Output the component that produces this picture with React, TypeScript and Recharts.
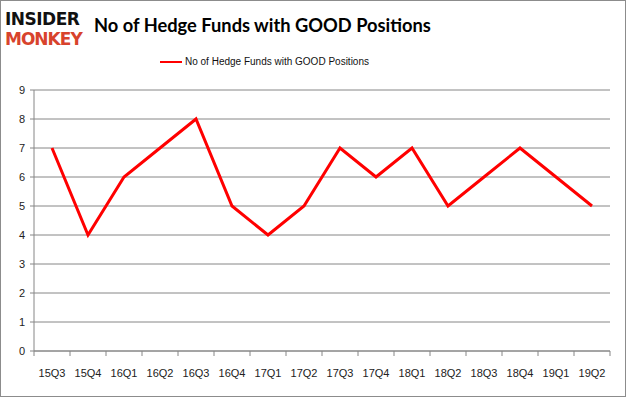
import React from 'react';
import { LineChart, Line, XAxis, YAxis, CartesianGrid } from 'recharts';

const quarters = ['15Q3', '15Q4', '16Q1', '16Q2', '16Q3', '16Q4', '17Q1', '17Q2', '17Q3', '17Q4', '18Q1', '18Q2', '18Q3', '18Q4', '19Q1', '19Q2'];
const funds = [7, 4, 6, 7, 8, 5, 4, 5, 7, 6, 7, 5, 6, 7, 6, 5];
const yTicks = [0, 1, 2, 3, 4, 5, 6, 7, 8, 9];
const seriesName = 'No of Hedge Funds with GOOD Positions';

const data = quarters.map((q, i) => ({ q, value: funds[i] }));

const font = '"Liberation Sans", Arial, sans-serif';

// Excel-style tick: label centred in band, tick mark on band boundary
const QuarterTick = (props: any) => {
    const { x, y, payload } = props;
    const off = payload.offset || 0;
    const last = payload.index === quarters.length - 1;
    return (
        <g>
            <line x1={x - off} x2={x - off} y1={y} y2={y + 5} stroke="#868686" />
            {last && <line x1={x + off} x2={x + off} y1={y} y2={y + 5} stroke="#868686" />}
            <text x={x} y={y + 26} textAnchor="middle" fontSize={11} fill="#222" fontFamily={font}>
                {payload.value}
            </text>
        </g>
    );
};

export default function App() {
    return (
        <div style={{ position: 'absolute', left: 0, top: 0, width: 626, height: 397, background: '#fff', boxSizing: 'border-box', border: '1px solid #8c8c8c' }}>
            <div style={{ position: 'absolute', left: 4, top: 8, fontFamily: '"DejaVu Sans", sans-serif', fontWeight: 900, lineHeight: '20px' }}>
                <div style={{ fontSize: 17, color: '#111', letterSpacing: -0.5 }}>INSIDER</div>
                <div style={{ fontSize: 17, color: '#d8432c', letterSpacing: -1 }}>MONKEY</div>
            </div>
            <div style={{ position: 'absolute', left: 93, top: 13, fontFamily: 'Lato, sans-serif', fontWeight: 700, fontSize: 18.3, color: '#000' }}>
                {seriesName}
            </div>
            <div style={{ position: 'absolute', left: 159, top: 55, display: 'flex', alignItems: 'center', fontFamily: font, fontSize: 10, color: '#111' }}>
                <span style={{ display: 'inline-block', width: 22, height: 2, background: '#ff0000', marginRight: 3 }} />
                <span>{seriesName}</span>
            </div>
            <LineChart width={624} height={395} data={data} margin={{ top: 89, right: 15, left: 3, bottom: 0 }}>
                <CartesianGrid vertical={false} stroke="#868686" />
                <XAxis dataKey="q" scale="band" tick={<QuarterTick />} tickLine={false} tickSize={0} tickMargin={0} axisLine={{ stroke: '#868686' }} interval={0} height={45} />
                <YAxis domain={[0, 9]} ticks={yTicks} interval={0} width={30} tickSize={4} tickMargin={5} axisLine={{ stroke: '#868686' }} tickLine={{ stroke: '#868686' }} tick={{ fontSize: 11, fill: '#222', fontFamily: font }} />
                <Line type="linear" dataKey="value" name={seriesName} stroke="#ff0000" strokeWidth={3} dot={false} isAnimationActive={false} />
            </LineChart>
        </div>
    );
}
